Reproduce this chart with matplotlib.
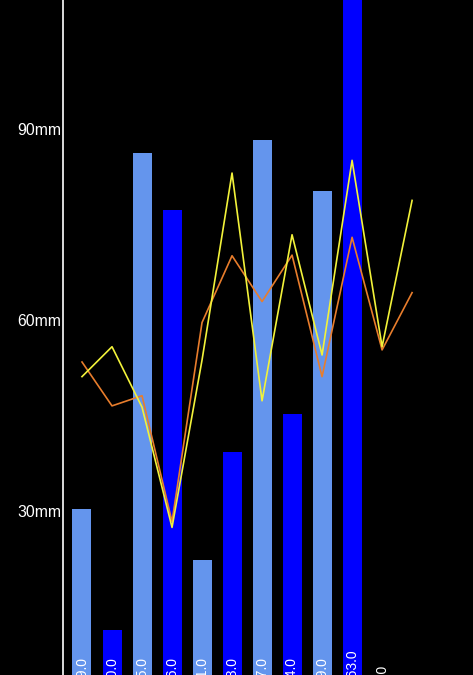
import matplotlib
matplotlib.use("Agg")
import matplotlib.pyplot as plt
import matplotlib.transforms as mtransforms
import numpy as np

plt.rcParams['font.family'] = ['Liberation Sans', 'DejaVu Sans']

# rainfall bars (mm) and two line series
rain = [29.0, 10.0, 85.0, 76.0, 21.0, 38.0, 87.0, 44.0, 79.0, 163.0, 0.0]
yellow_line = [49.8, 54.5, 45.0, 26.1, 52.4, 81.8, 46.0, 72.1, 53.2, 83.8, 54.5, 77.5]
orange_line = [52.1, 45.2, 46.8, 27.0, 58.3, 68.8, 61.6, 68.9, 49.8, 71.7, 54.0, 63.0]
yticks = [30, 60, 90]
ytick_labels = ['30mm', '60mm', '90mm']

bar_colors = ['#6495ED', '#0000FF']

fig = plt.figure(figsize=(4.73, 6.75), dpi=100, facecolor='black')
ax = fig.add_axes([63 / 473, 0, 410 / 473, 1])
ax.set_facecolor('black')

xb = np.arange(len(rain))
ax.bar(xb, rain, width=0.633,
       color=[bar_colors[i % 2] for i in range(len(rain))], zorder=1)
for x, v in zip(xb, rain):
    ax.text(x, 1.5, '%.1f' % v, rotation=90, ha='center', va='bottom',
            color='white', fontsize=10, zorder=3)

xl = np.arange(len(yellow_line))
ax.plot(xl, orange_line, color='#E87D2C', lw=1.2, zorder=2)
ax.plot(xl, yellow_line, color='#F2F23A', lw=1.2, zorder=2)

ax.set_xlim(-0.633, 13.03)
ax.set_ylim(2.9, 109.0)
ax.set_xticks([])
ax.set_yticks(yticks)
ax.set_yticklabels(ytick_labels, color='white', fontsize=11.3)
ax.tick_params(axis='y', length=0, pad=1)

# labels sit a little below their tick in the reference
offset = mtransforms.ScaledTranslation(0, -8 / 100, fig.dpi_scale_trans)
for lab in ax.get_yticklabels():
    lab.set_transform(lab.get_transform() + offset)

for s in ['top', 'right', 'bottom']:
    ax.spines[s].set_visible(False)
ax.spines['left'].set_color('white')
ax.spines['left'].set_linewidth(1.2)

fig.savefig('out.png', dpi=100, facecolor='black')
